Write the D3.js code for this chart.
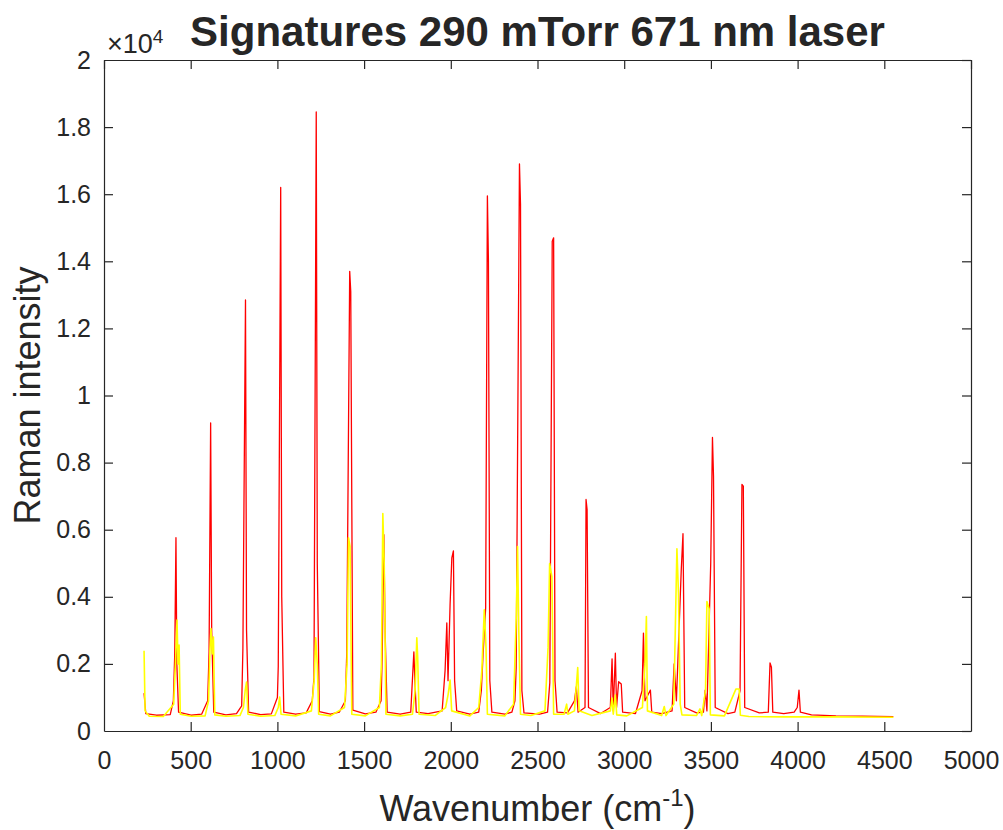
<!DOCTYPE html>
<html>
<head>
<meta charset="utf-8">
<script src="https://cdn.jsdelivr.net/npm/d3@7"></script>
<style>
  body { margin: 0; background: #fff; }
  text { font-family: "Liberation Sans", Arial, Helvetica, sans-serif; fill: #262626; }
</style>
</head>
<body>
<div id="chart"></div>
<script>
// spectrum: [wavenumber (cm^-1), Raman intensity]
var redSeries = [
  [231,1130],[241,520],[302,470],[382,490],[400,900],[408,2300],[415,5760],[420,2000],[430,560],
  [502,470],[563,500],[598,900],[606,2360],[615,9180],[621,3000],[633,560],
  [703,480],[764,520],[794,750],[801,2450],[816,12850],[822,3000],[834,560],
  [904,490],[965,510],[1000,1000],[1005,1940],[1019,16200],[1025,4000],[1037,560],
  [1105,500],[1166,540],[1201,900],[1211,1600],[1224,18450],[1230,5000],[1242,580],
  [1306,500],[1357,560],[1392,900],[1400,2330],[1417,13700],[1423,13100],[1435,620],
  [1507,510],[1568,560],[1598,900],[1604,2150],[1614,5850],[1621,3000],[1633,560],
  [1708,500],[1769,560],[1787,2360],[1793,1500],[1801,560],
  [1869,520],[1950,600],[1967,1800],[1977,3220],[1984,1500],[1996,3790],[2006,5160],[2015,5370],[2022,1500],[2034,600],
  [2110,500],[2161,560],[2176,1200],[2186,2270],[2201,3670],[2211,15950],[2217,14000],[2225,1500],[2237,560],
  [2311,500],[2352,560],[2370,900],[2377,1880],[2396,16900],[2402,15700],[2410,1200],[2422,540],
  [2512,500],[2558,560],[2571,1440],[2585,14600],[2593,14700],[2601,1500],[2613,560],
  [2673,540],[2713,900],[2724,1320],[2734,560],[2774,700],[2780,6900],[2786,6600],[2794,700],
  [2864,520],[2920,700],[2930,2150],[2937,600],[2949,2320],[2956,700],[2968,1470],[2983,1400],[2991,560],
  [3065,520],[3103,1200],[3111,2920],[3120,900],[3151,1220],[3159,560],
  [3216,520],[3276,600],[3288,2000],[3301,900],[3329,4800],[3339,5880],[3349,700],
  [3417,540],[3457,560],[3467,1220],[3477,600],[3499,5000],[3509,8750],[3515,7600],[3525,700],
  [3598,520],[3638,560],[3668,1200],[3679,7350],[3687,7300],[3695,700],
  [3779,540],[3831,560],[3841,2030],[3849,1900],[3857,560],
  [3920,520],[3980,560],[3998,700],[4008,1220],[4016,560],
  [4080,480],[4221,450],[4372,440],[4552,430]
];
var yellowSeries = [
  [231,2390],[237,600],[261,440],[342,430],[402,800],[412,2000],[421,3310],[427,2000],[433,2560],[440,500],
  [502,440],[583,450],[603,900],[611,2400],[617,3050],[624,2300],[631,2800],[639,480],
  [703,440],[784,460],[804,700],[814,1200],[822,1460],[830,500],
  [904,440],[985,460],[1005,700],[1013,1010],[1021,500],
  [1105,450],[1196,600],[1212,1500],[1221,2780],[1230,2000],[1238,500],
  [1306,450],[1387,700],[1402,2000],[1410,5760],[1419,5500],[1429,500],
  [1507,450],[1588,700],[1600,2000],[1608,6480],[1616,5000],[1626,500],
  [1708,450],[1779,500],[1794,1200],[1804,2780],[1809,2200],[1817,500],
  [1909,460],[1970,700],[1985,1100],[1996,1520],[2005,600],
  [2110,450],[2161,700],[2179,1800],[2193,3610],[2203,2500],[2211,500],
  [2311,450],[2362,800],[2378,3500],[2385,5500],[2392,3000],[2402,500],
  [2462,460],[2543,600],[2561,2500],[2570,4990],[2583,4600],[2593,500],
  [2653,500],[2668,800],[2675,500],[2713,600],[2732,1890],[2740,600],
  [2814,460],[2920,600],[2930,980],[2937,500],[2949,1070],[2957,480],
  [3015,450],[3105,700],[3120,2000],[3128,3410],[3134,600],
  [3216,460],[3231,730],[3241,460],
  [3286,800],[3304,5430],[3313,4100],[3323,800],[3333,480],
  [3417,460],[3437,660],[3447,460],[3469,1200],[3477,3860],[3490,3640],[3497,480],
  [3578,450],[3644,1250],[3663,1250],[3670,470],
  [3719,430],[3920,420],[4221,420],[4552,410]
];
var xTicks = [0, 500, 1000, 1500, 2000, 2500, 3000, 3500, 4000, 4500, 5000];
var yTicks = [0, 0.2, 0.4, 0.6, 0.8, 1, 1.2, 1.4, 1.6, 1.8, 2];   // x 10^4

var width = 1003, height = 830;
var margin = { top: 60, right: 32, bottom: 99, left: 104 };
var w = width - margin.left - margin.right,
    h = height - margin.top - margin.bottom;
var axisColor = "#262626";

var svg = d3.select("#chart").append("svg")
    .attr("width", width)
    .attr("height", height);

var g = svg.append("g")
    .attr("transform", "translate(" + margin.left + "," + margin.top + ")");

var x = d3.scaleLinear().domain([0, 5000]).range([0, w]);
var y = d3.scaleLinear().domain([0, 20000]).range([h, 0]);

g.append("clipPath").attr("id", "plot-clip")
  .append("rect").attr("width", w).attr("height", h);

var line = d3.line()
    .x(function(d) { return x(d[0]); })
    .y(function(d) { return y(d[1]); });

var plot = g.append("g").attr("clip-path", "url(#plot-clip)");
plot.append("path")
    .datum(redSeries)
    .attr("fill", "none")
    .attr("stroke", "#ff0000")
    .attr("stroke-width", 1.3)
    .attr("stroke-linejoin", "round")
    .attr("d", line);
plot.append("path")
    .datum(yellowSeries)
    .attr("fill", "none")
    .attr("stroke", "#ffff00")
    .attr("stroke-width", 1.6)
    .attr("stroke-linejoin", "round")
    .attr("d", line);

// axes, MATLAB style: ticks pointing in, box all round
var tickLen = 9;
var xAxis = g.append("g")
    .attr("transform", "translate(0," + h + ")")
    .call(d3.axisBottom(x).tickValues(xTicks).tickSizeInner(-tickLen).tickSizeOuter(0).tickPadding(20)
      .tickFormat(d3.format("d")));
var xTop = g.append("g")
    .call(d3.axisTop(x).tickValues(xTicks).tickSizeInner(-tickLen).tickSizeOuter(0).tickFormat(""));
var yScaleTicks = d3.scaleLinear().domain([0, 2]).range([h, 0]);
var yAxis = g.append("g")
    .call(d3.axisLeft(yScaleTicks).tickValues(yTicks).tickSizeInner(-tickLen).tickSizeOuter(0).tickPadding(13)
      .tickFormat(function(d) { return d3.format("~g")(d); }));
var yRight = g.append("g")
    .attr("transform", "translate(" + w + ",0)")
    .call(d3.axisRight(yScaleTicks).tickValues(yTicks).tickSizeInner(-tickLen).tickSizeOuter(0).tickFormat(""));

[xAxis, xTop, yAxis, yRight].forEach(function(a) {
  a.selectAll("path.domain").attr("stroke", axisColor).attr("stroke-width", 1.2);
  a.selectAll(".tick line").attr("stroke", axisColor).attr("stroke-width", 1.2);
  a.selectAll(".tick text")
    .attr("font-family", "Liberation Sans, Arial, sans-serif")
    .attr("font-size", 25)
    .attr("fill", axisColor);
});
// no tick marks on the box corners
xAxis.selectAll(".tick line").filter(function(d) { return d === 0 || d === 5000; }).remove();
yAxis.selectAll(".tick line").filter(function(d) { return d === 0 || d === 2; }).remove();

// exponent label
var expo = g.append("text")
    .attr("x", 3)
    .attr("y", -7)
    .attr("font-size", 27);
expo.append("tspan").text("\u00d710");
expo.append("tspan").attr("dy", -10).attr("font-size", 19).text("4");

// title
svg.append("text")
    .attr("x", margin.left + w / 2)
    .attr("y", 46)
    .attr("text-anchor", "middle")
    .attr("font-size", 42)
    .attr("font-weight", "bold")
    .attr("fill", "#000")
    .text("Signatures 290 mTorr 671 nm laser");

// axis labels
var xl = svg.append("text")
    .attr("x", margin.left + w / 2)
    .attr("y", 821)
    .attr("text-anchor", "middle")
    .attr("font-size", 36);
xl.append("tspan").text("Wavenumber (cm");
xl.append("tspan").attr("dy", -15).attr("font-size", 24).text("-1");
xl.append("tspan").attr("dy", 15).text(")");

svg.append("text")
    .attr("transform", "translate(40," + (margin.top + h / 2) + ") rotate(-90)")
    .attr("text-anchor", "middle")
    .attr("font-size", 36)
    .text("Raman intensity");
</script>
</body>
</html>
